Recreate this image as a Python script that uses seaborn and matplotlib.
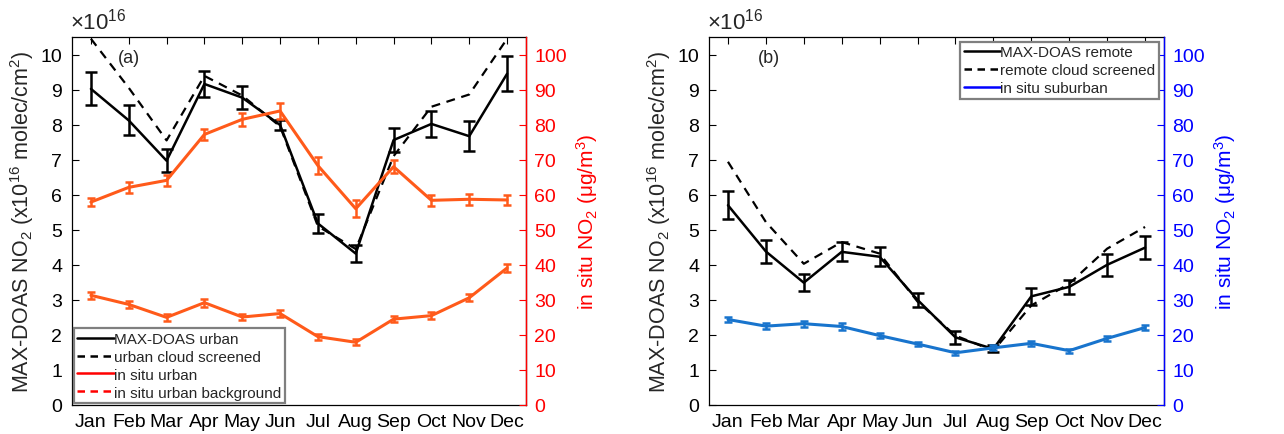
import numpy as np
import pandas as pd
import matplotlib
matplotlib.use("Agg")
import matplotlib.pyplot as plt
import seaborn as sns

months = ["Jan", "Feb", "Mar", "Apr", "May", "Jun", "Jul", "Aug", "Sep", "Oct", "Nov", "Dec"]
month_num = list(range(1, 13))

# Panel (a) - urban (MAX-DOAS in 1e16 molec/cm2)
urban = [9.02, 8.12, 6.97, 9.16, 8.77, 7.99, 5.18, 4.32, 7.56, 8.02, 7.67, 9.45]
urban_err = [0.47, 0.43, 0.33, 0.37, 0.33, 0.15, 0.28, 0.25, 0.35, 0.36, 0.43, 0.50]
urban_cloud = [10.45, 9.05, 7.55, 9.39, 8.83, 7.95, 5.10, 4.45, 7.10, 8.51, 8.86, 10.45]
insitu_urban = [57.9, 62.1, 64.1, 77.2, 81.5, 83.9, 68.3, 56.0, 68.0, 58.4, 58.7, 58.5]
insitu_urban_err = [1.2, 1.5, 1.5, 1.6, 1.9, 2.4, 2.5, 2.4, 1.8, 1.5, 1.6, 1.3]
insitu_bg = [31.3, 28.7, 25.0, 29.2, 25.1, 26.1, 19.5, 17.9, 24.5, 25.5, 30.6, 39.1]
insitu_bg_err = [1.0, 1.0, 1.0, 1.1, 0.9, 0.9, 0.9, 0.8, 0.9, 0.9, 1.0, 1.1]

# Panel (b) - remote
remote = [5.70, 4.38, 3.49, 4.37, 4.23, 3.00, 1.93, 1.60, 3.10, 3.37, 4.00, 4.49]
remote_err = [0.40, 0.33, 0.25, 0.27, 0.27, 0.20, 0.18, 0.10, 0.24, 0.21, 0.32, 0.33]
remote_cloud = [6.94, 5.22, 4.03, 4.65, 4.32, 2.95, 1.98, 1.55, 2.84, 3.46, 4.46, 5.08]
insitu_sub = [24.4, 22.5, 23.2, 22.4, 19.8, 17.4, 14.9, 16.3, 17.6, 15.5, 19.0, 22.1]
insitu_sub_err = [0.8, 0.8, 0.9, 0.9, 0.8, 0.7, 0.6, 0.7, 0.7, 0.6, 0.7, 0.8]

sns.set_style("white")
plt.rcParams["font.family"] = ["Liberation Sans", "DejaVu Sans"]
plt.rcParams["mathtext.fontset"] = "custom"
plt.rcParams["mathtext.rm"] = "Liberation Sans"
plt.rcParams["mathtext.it"] = "Liberation Sans"

ORANGE = "#FF5A1A"
BLUE = "#1874CD"
TICK_FS = 14

fig = plt.figure(figsize=(12.84, 4.35), dpi=100)
axL = fig.add_axes([72/1284, 1-406/435, 454/1284, 368/435])
axR = fig.add_axes([709/1284, 1-406/435, 455/1284, 368/435])

df_a = pd.DataFrame({"m": month_num, "urban": urban, "cloud": urban_cloud})
df_b = pd.DataFrame({"m": month_num, "remote": remote, "cloud": remote_cloud})


def style_axes(ax, twin, twin_color):
    ax.set_xlim(0.5, 12.5)
    ax.set_ylim(0, 10.5)
    ax.set_xticks(month_num)
    ax.set_xticklabels(months)
    ax.set_yticks(range(0, 11))
    ax.tick_params(axis="both", direction="in", length=5, width=0.8, labelsize=TICK_FS,
                   top=True, right=False, colors="black", pad=6)
    ax.tick_params(axis="y", pad=7)
    for s in ax.spines.values():
        s.set_color("black")
        s.set_linewidth(0.9)
    twin.set_ylim(0, 105)
    twin.set_yticks(range(0, 101, 10))
    twin.tick_params(axis="y", direction="in", length=5, width=0.8, labelsize=TICK_FS,
                     colors=twin_color, pad=6)
    twin.spines["right"].set_color(twin_color)
    twin.spines["right"].set_linewidth(1.0)
    for k in ["left", "top", "bottom"]:
        twin.spines[k].set_visible(False)
    ax.set_ylabel("MAX-DOAS NO$_2$ (x10$^{16}$ molec/cm$^2$)", fontsize=15.5, labelpad=3)
    twin.set_ylabel("in situ NO$_2$ ($\\mu$g/m$^3$)", fontsize=15, color=twin_color, labelpad=5)
    ax.text(-0.005, 1.01, "$\\times$10$^{16}$", transform=ax.transAxes, fontsize=16,
            ha="left", va="bottom")


# ---------- Panel (a) ----------
twL = axL.twinx()
sns.lineplot(data=df_a, x="m", y="cloud", ax=axL, color="black", lw=1.6,
             linestyle=(0, (4, 3)), legend=False)
sns.lineplot(data=df_a, x="m", y="urban", ax=axL, color="black", lw=1.8, legend=False)
axL.errorbar(month_num, urban, yerr=urban_err, fmt="none", ecolor="black",
             elinewidth=1.8, capsize=4, capthick=1.8)

df_is = pd.DataFrame({"m": month_num, "u": insitu_urban, "b": insitu_bg})
sns.lineplot(data=df_is, x="m", y="u", ax=twL, color=ORANGE, lw=2.2, legend=False)
sns.lineplot(data=df_is, x="m", y="b", ax=twL, color=ORANGE, lw=2.2, legend=False)
twL.errorbar(month_num, insitu_urban, yerr=insitu_urban_err, fmt="none", ecolor=ORANGE,
             elinewidth=1.8, capsize=3.2, capthick=1.8)
twL.errorbar(month_num, insitu_bg, yerr=insitu_bg_err, fmt="none", ecolor=ORANGE,
             elinewidth=1.8, capsize=3.2, capthick=1.8)
style_axes(axL, twL, "#FF0000")
axL.text(0.10, 0.945, "(a)", transform=axL.transAxes, fontsize=13, va="center")

hL = [plt.Line2D([], [], color="black", lw=1.8),
      plt.Line2D([], [], color="black", lw=1.8, linestyle=(0, (3, 2.2))),
      plt.Line2D([], [], color="#FF0000", lw=1.8),
      plt.Line2D([], [], color="#FF0000", lw=1.8, linestyle=(0, (3, 2.2)))]
legL = twL.legend(hL, ["MAX-DOAS urban", "urban cloud screened", "in situ urban",
                       "in situ urban background"],
                  loc="lower left", bbox_to_anchor=(0.0, 0.0), fontsize=11,
                  frameon=True, fancybox=False, edgecolor="#7f7f7f", framealpha=1,
                  handlelength=2.4, handletextpad=0.0, borderpad=0.25,
                  labelspacing=0.25, borderaxespad=0.1)
legL.get_frame().set_linewidth(1.6)

# ---------- Panel (b) ----------
twR = axR.twinx()
sns.lineplot(data=df_b, x="m", y="cloud", ax=axR, color="black", lw=1.6,
             linestyle=(0, (4, 3)), legend=False)
sns.lineplot(data=df_b, x="m", y="remote", ax=axR, color="black", lw=1.8, legend=False)
axR.errorbar(month_num, remote, yerr=remote_err, fmt="none", ecolor="black",
             elinewidth=1.8, capsize=4, capthick=1.8)
df_sub = pd.DataFrame({"m": month_num, "s": insitu_sub})
sns.lineplot(data=df_sub, x="m", y="s", ax=twR, color=BLUE, lw=2.2, legend=False)
twR.errorbar(month_num, insitu_sub, yerr=insitu_sub_err, fmt="none", ecolor=BLUE,
             elinewidth=1.8, capsize=3.2, capthick=1.8)
style_axes(axR, twR, "#0000FF")
axR.text(0.108, 0.945, "(b)", transform=axR.transAxes, fontsize=13, va="center")

hR = [plt.Line2D([], [], color="black", lw=1.8),
      plt.Line2D([], [], color="black", lw=1.8, linestyle=(0, (3, 2.2))),
      plt.Line2D([], [], color="#0000FF", lw=1.8)]
legR = twR.legend(hR, ["MAX-DOAS remote", "remote cloud screened", "in situ suburban"],
                  loc="upper right", bbox_to_anchor=(1.0, 1.0), fontsize=11,
                  frameon=True, fancybox=False, edgecolor="#7f7f7f", framealpha=1,
                  handlelength=2.4, handletextpad=0.0, borderpad=0.25,
                  labelspacing=0.25, borderaxespad=0.3)
legR.get_frame().set_linewidth(1.6)

for ax in (axL, axR):
    ax.set_xlabel("")

fig.savefig("out.png", dpi=100)
